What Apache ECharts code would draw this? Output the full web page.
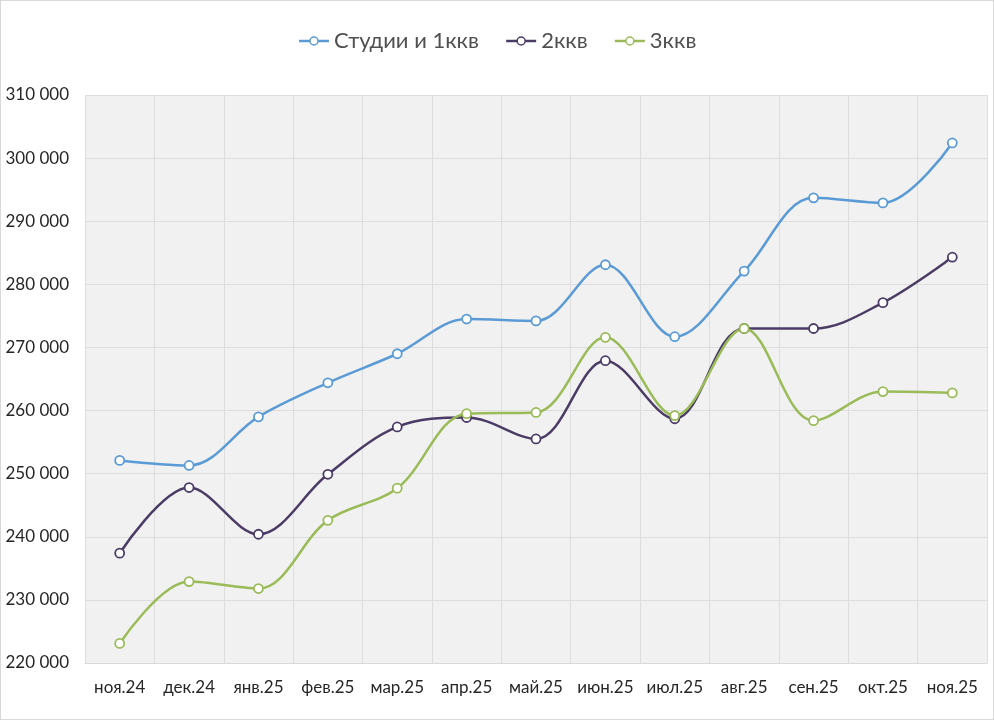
<!DOCTYPE html>
<html><head><meta charset="utf-8">
<script src="https://cdn.jsdelivr.net/npm/echarts@6/dist/echarts.min.js"></script>
<style>html,body{margin:0;padding:0;background:#fff}#c{width:992px;height:718px;border:1px solid #d9d9d9}</style>
</head><body><div id="c"></div>
<script>
const categories = ['ноя.24','дек.24','янв.25','фев.25','мар.25','апр.25','май.25','июн.25','июл.25','авг.25','сен.25','окт.25','ноя.25'];
const studio1 = [252100,251300,259000,264400,269000,274500,274200,283100,271700,282100,293700,292900,302400];
const room2 = [237400,247800,240400,249900,257400,258900,255500,267900,258700,273000,273000,277100,284300];
const room3 = [223100,232900,231800,242600,247700,259500,259700,271600,259200,273000,258400,263000,262800];
const seriesNames = ['Студии и 1ккв','2ккв','3ккв'];
const colors = ['#5b9bd5','#4b3c66','#9bbb59'];
const font = 'Lato, "Open Sans", sans-serif';
const chart = echarts.init(document.getElementById('c'));
const mk = (name, data, color) => ({
  name, type:'line', data, smooth:0.35, symbol:'circle', symbolSize:9,
  lineStyle:{color, width:2.5}, itemStyle:{color:'#fff', borderColor:color, borderWidth:1.8}
});
chart.setOption({
  animation:false,
  textStyle:{fontFamily:font},
  legend:{top:24, left:'center', itemWidth:30, itemHeight:10, itemGap:26,
    textStyle:{fontSize:22, color:'#505050', fontFamily:font},
    data:seriesNames.map((n,i)=>({name:n, itemStyle:{color:'#fff', borderColor:colors[i], borderWidth:1.5}, lineStyle:{color:colors[i], width:2.5}}))},
  grid:{left:84, right:6, top:94, bottom:56, show:true, backgroundColor:'#f1f1f1', borderWidth:0},
  xAxis:{type:'category', data:categories, boundaryGap:true,
    axisLine:{show:true, lineStyle:{color:'#d9d9d9'}}, axisTick:{show:false},
    splitLine:{show:true, interval:0, lineStyle:{color:'#dddddd', width:1}},
    axisLabel:{interval:0, fontSize:17, color:'#262626', margin:16, fontFamily:font}},
  yAxis:{type:'value', min:220000, max:310000, interval:10000,
    axisLine:{show:false}, axisTick:{show:false},
    splitLine:{lineStyle:{color:'#dddddd', width:1}},
    axisLabel:{fontSize:17, color:'#262626', margin:16, fontFamily:font,
      formatter:v=>String(v).replace(/\B(?=(\d{3})+(?!\d))/g,' ')}},
  series:[mk(seriesNames[0],studio1,colors[0]), mk(seriesNames[1],room2,colors[1]), mk(seriesNames[2],room3,colors[2])]
});
</script></body></html>
